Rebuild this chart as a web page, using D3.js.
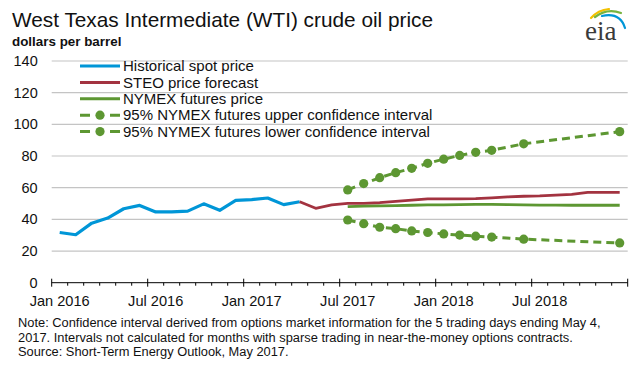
<!DOCTYPE html>
<html>
<head>
<meta charset="utf-8">
<script src="https://cdn.jsdelivr.net/npm/d3@7"></script>
<style>
    body { margin: 0; background: #fff; }
    svg { display: block; font-family: "Liberation Sans", Arial, sans-serif; }
</style>
</head>
<body>
<div id="chart"></div>
<script>
// monthly values, dollars per barrel
const spotMonths = ["2016-01", "2017-04"];
const spotPrice = [31.7, 30.3, 37.6, 40.8, 46.7, 48.8, 44.7, 44.7, 45.2, 49.8, 45.7, 52.0, 52.5, 53.5, 49.3, 51.1];

const steoMonths = ["2017-04", "2018-12"];
const steoForecast = [51.1, 47.0, 49.1, 50.1, 50.1, 50.5, 51.4, 52.2, 52.9, 52.9, 52.9, 53.1,
    53.6, 54.2, 54.6, 54.8, 55.3, 55.8, 57.0, 57.1, 57.1];

const futuresMonths = ["2017-07", "2018-12"];
const futuresPrice = [48.0, 48.3, 48.5, 48.7, 48.9, 49.1, 49.2, 49.3, 49.4, 49.4, 49.3, 49.1,
    49.0, 49.0, 48.9, 48.9, 48.9, 48.9];
// null = interval not calculated (sparse trading)
const upperInterval = [58.6, 62.6, 66.3, 69.5, 72.2, 75.4, 78.0, 80.4, 82.3, 83.6, null, 87.7,
    null, null, null, null, null, 95.4];
const lowerInterval = [39.6, 37.3, 35.0, 34.1, 32.7, 31.7, 30.8, 30.1, 29.4, 28.8, null, 27.5,
    null, null, null, null, null, 25.1];

const yTicks = [0, 20, 40, 60, 80, 100, 120, 140];
const xTickMonths = ["2016-01", "2016-07", "2017-01", "2017-07", "2018-01", "2018-07"];
const xTickLabels = ["Jan 2016", "Jul 2016", "Jan 2017", "Jul 2017", "Jan 2018", "Jul 2018"];

const legendLabels = [
    "Historical spot price",
    "STEO price forecast",
    "NYMEX futures price",
    "95% NYMEX futures upper confidence interval",
    "95% NYMEX futures lower confidence interval"
];

const titleText = "West Texas Intermediate (WTI) crude oil price";
const unitText = "dollars per barrel";
const noteLines = [
    "Note: Confidence interval derived from options market information for the 5 trading days ending May 4,",
    "2017. Intervals not calculated for months with sparse trading in near-the-money options contracts.",
    "Source: Short-Term Energy Outlook, May 2017."
];

const BLUE = '#0096d7';
const RED = '#a33340';
const GREEN = '#5d9732';

class OilPriceChart {

    constructor(selector) {
        this.width = 640;
        this.height = 370;
        this.svg = d3.select(selector).append('svg')
            .attr('width', this.width)
            .attr('height', this.height);

        this.fmt = d3.timeFormat('%Y-%m');
        this.parse = d3.timeParse('%Y-%m');
        this.months = d3.timeMonth.range(new Date(2016, 0, 1), new Date(2019, 0, 1)).map(this.fmt);

        this.x = d3.scaleBand().domain(this.months).range([51.7, 627.7]).padding(0);
        this.y = d3.scaleLinear().domain([0, 140]).range([282.7, 61]);
    }

    // month keys between two months, inclusive
    span(range) {
        const [a, b] = range.map(this.parse);
        return d3.timeMonth.range(a, d3.timeMonth.offset(b, 1)).map(this.fmt);
    }

    cx(m) {
        return this.x(m) + this.x.bandwidth() / 2;
    }

    series(range, values) {
        return this.span(range).map((m, i) => ({month: m, value: values[i]}));
    }

    drawTitles() {
        this.svg.append('text')
            .attr('x', 12).attr('y', 27)
            .attr('font-size', 20.8).attr('fill', '#111')
            .text(titleText);

        this.svg.append('text')
            .attr('x', 12).attr('y', 45.5)
            .attr('font-size', 13.4).attr('font-weight', 'bold').attr('fill', '#111')
            .text(unitText);
    }

    drawGrid() {
        const [x0, x1] = this.x.range();
        this.svg.append('g')
            .selectAll('line')
            .data(yTicks.filter(d => d > 0))
            .join('line')
            .attr('x1', x0).attr('x2', x1)
            .attr('y1', d => this.y(d)).attr('y2', d => this.y(d))
            .attr('stroke', '#c4c4c4').attr('stroke-width', 1.2);
    }

    drawAxes() {
        const [x0, x1] = this.x.range();
        const y0 = this.y(0);

        const yAxis = this.svg.append('g')
            .attr('transform', `translate(${x0},0)`)
            .call(d3.axisLeft(this.y).tickValues(yTicks).tickSize(0).tickPadding(14));
        yAxis.select('.domain').remove();
        yAxis.selectAll('text')
            .attr('font-size', 14.5).attr('fill', '#111')
            .attr('font-family', '"Liberation Sans", Arial, sans-serif');

        const xAxis = this.svg.append('g');
        xAxis.append('line')
            .attr('x1', x0).attr('x2', x1)
            .attr('y1', y0).attr('y2', y0)
            .attr('stroke', '#000').attr('stroke-width', 1);

        // one tick per month boundary, longer ones at Jan and Jul
        const edges = this.months.map(m => ({pos: this.x(m), major: /-(01|07)$/.test(m)}));
        edges.push({pos: x1, major: true});
        xAxis.selectAll('.tick')
            .data(edges)
            .join('line')
            .attr('class', 'tick')
            .attr('x1', d => d.pos).attr('x2', d => d.pos)
            .attr('y1', d => d.major ? y0 - 4 : y0)
            .attr('y2', d => d.major ? y0 + 4 : y0 + 3)
            .attr('stroke', '#000').attr('stroke-width', 1);

        xAxis.selectAll('.label')
            .data(xTickMonths)
            .join('text')
            .attr('class', 'label')
            .attr('x', d => this.cx(d))
            .attr('y', 305.5)
            .attr('text-anchor', 'middle')
            .attr('font-size', 14.6).attr('fill', '#111')
            .text((d, i) => xTickLabels[i]);
    }

    drawSeries() {
        const line = d3.line()
            .x(d => this.cx(d.month))
            .y(d => this.y(d.value));

        const solid = [
            {data: this.series(spotMonths, spotPrice), color: BLUE, width: 3.2},
            {data: this.series(steoMonths, steoForecast), color: RED, width: 2.8},
            {data: this.series(futuresMonths, futuresPrice), color: GREEN, width: 2.8}
        ];
        this.svg.append('g')
            .selectAll('path')
            .data(solid)
            .join('path')
            .attr('fill', 'none')
            .attr('stroke', d => d.color)
            .attr('stroke-width', d => d.width)
            .attr('stroke-linejoin', 'round')
            .attr('d', d => line(d.data));

        // confidence bands: dashes join the months that have a value
        [upperInterval, lowerInterval].forEach(values => {
            const pts = this.series(futuresMonths, values).filter(d => d.value != null);
            const g = this.svg.append('g');
            g.append('path')
                .attr('fill', 'none')
                .attr('stroke', GREEN)
                .attr('stroke-width', 3)
                .attr('stroke-dasharray', '8,5')
                .attr('d', line(pts));
            g.selectAll('circle')
                .data(pts)
                .join('circle')
                .attr('cx', d => this.cx(d.month))
                .attr('cy', d => this.y(d.value))
                .attr('r', 4.6)
                .attr('fill', GREEN);
        });
    }

    drawLegend() {
        const styles = [
            {color: BLUE, dashed: false},
            {color: RED, dashed: false},
            {color: GREEN, dashed: false},
            {color: GREEN, dashed: true},
            {color: GREEN, dashed: true}
        ];
        const rows = this.svg.append('g')
            .selectAll('g')
            .data(legendLabels)
            .join('g')
            .attr('transform', (d, i) => `translate(80, ${66 + i * 16.4})`);

        rows.append('line')
            .attr('x1', 0).attr('x2', 40)
            .attr('stroke', (d, i) => styles[i].color)
            .attr('stroke-width', 3)
            .attr('stroke-dasharray', (d, i) => styles[i].dashed ? '10,20' : null);

        rows.filter((d, i) => styles[i].dashed)
            .append('circle')
            .attr('cx', 20).attr('r', 4.6)
            .attr('fill', GREEN);

        rows.append('text')
            .attr('x', 43).attr('y', 5.2)
            .attr('font-size', 15).attr('fill', '#111')
            .text(d => d);
    }

    drawNotes() {
        this.svg.append('g')
            .selectAll('text')
            .data(noteLines)
            .join('text')
            .attr('x', 18)
            .attr('y', (d, i) => 327.3 + i * 14.4)
            .attr('font-size', 12.85).attr('fill', '#111')
            .text(d => d);
    }

    drawLogo() {
        const g = this.svg.append('g');
        const arcs = [
            {d: 'M591,18 Q598,10 609,9', color: '#f2c100'},
            {d: 'M595,17 Q607,8 621,13', color: '#77b33f'},
            {d: 'M602,16 Q620,12 625,28', color: BLUE}
        ];
        g.selectAll('path')
            .data(arcs)
            .join('path')
            .attr('d', d => d.d)
            .attr('fill', 'none')
            .attr('stroke', d => d.color)
            .attr('stroke-width', 2.2)
            .attr('stroke-linecap', 'round');

        g.append('text')
            .attr('x', 585).attr('y', 40)
            .attr('font-family', '"Liberation Serif", "DejaVu Serif", serif')
            .attr('font-size', 27).attr('fill', '#3a3a3a')
            .text('eia');
    }

    render() {
        this.drawTitles();
        this.drawGrid();
        this.drawAxes();
        this.drawSeries();
        this.drawLegend();
        this.drawNotes();
        this.drawLogo();
    }
}

new OilPriceChart('#chart').render();
</script>
</body>
</html>
